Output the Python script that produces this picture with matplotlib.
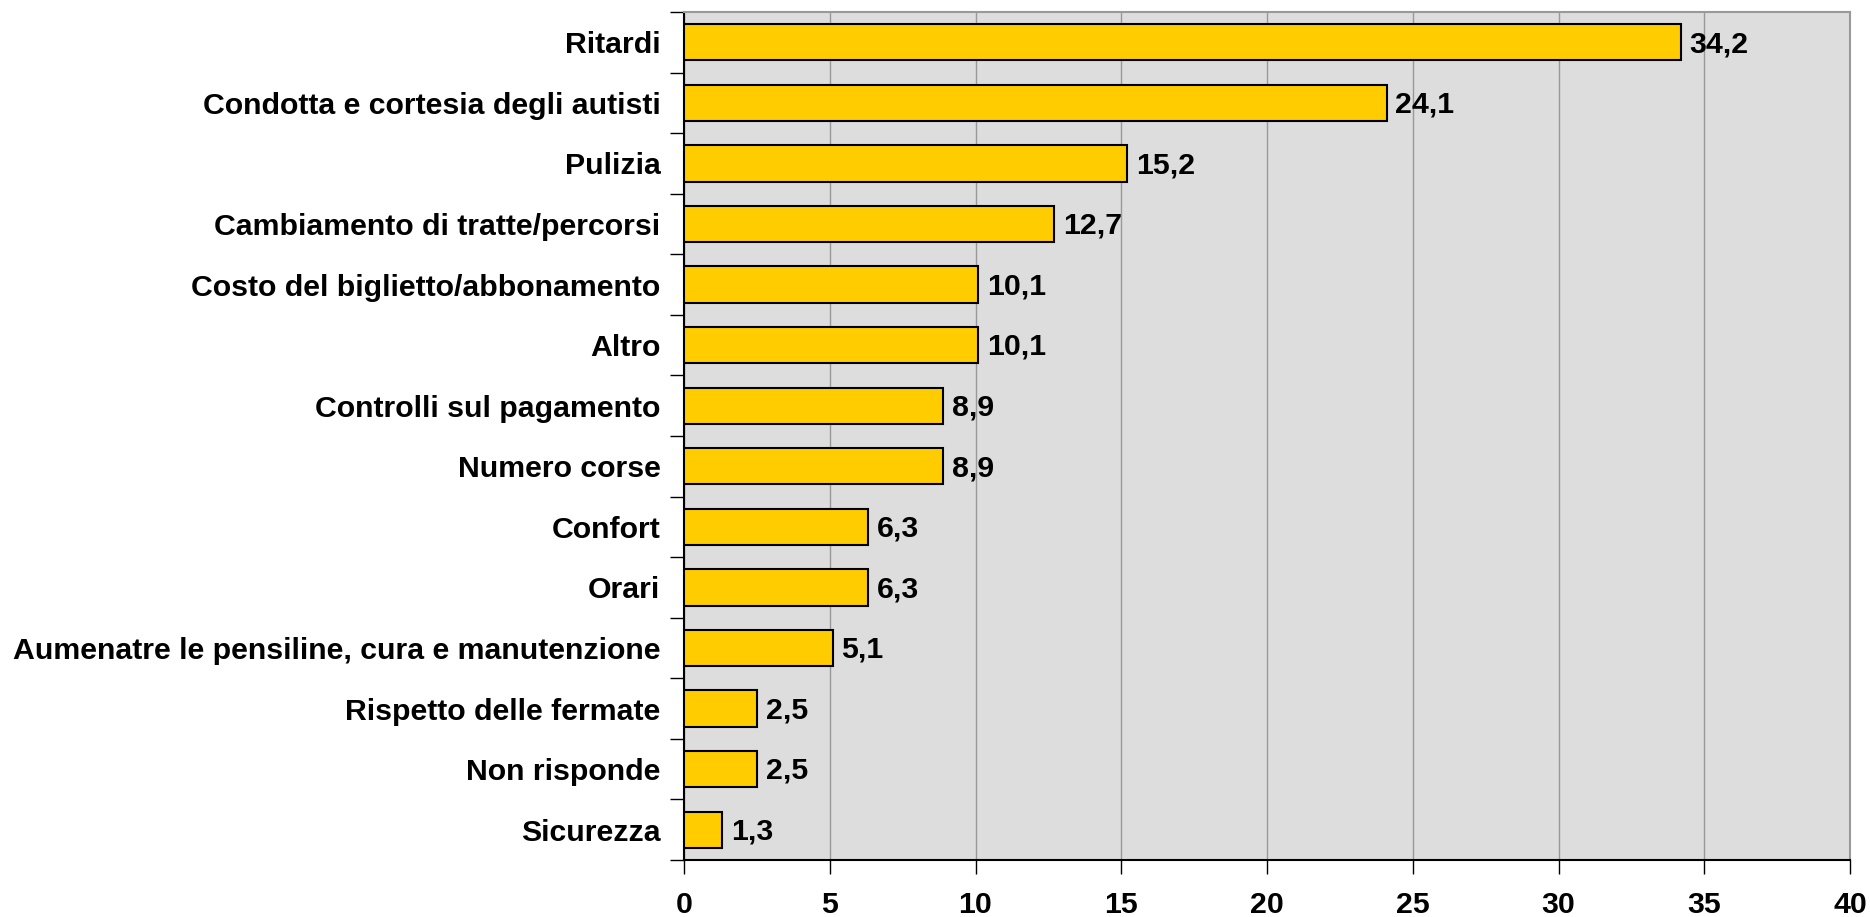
import matplotlib
matplotlib.use('Agg')
import matplotlib.pyplot as plt

categories = ['Ritardi', 'Condotta e cortesia degli autisti', 'Pulizia',
              'Cambiamento di tratte/percorsi', 'Costo del biglietto/abbonamento',
              'Altro', 'Controlli sul pagamento', 'Numero corse', 'Confort',
              'Orari', 'Aumenatre le pensiline, cura e manutenzione',
              'Rispetto delle fermate', 'Non risponde', 'Sicurezza']
values = [34.2, 24.1, 15.2, 12.7, 10.1, 10.1, 8.9, 8.9, 6.3, 6.3, 5.1, 2.5, 2.5, 1.3]
xticks = [0, 5, 10, 15, 20, 25, 30, 35, 40]

plt.rcParams['font.family'] = ['Liberation Sans', 'DejaVu Sans']
plt.rcParams['font.weight'] = 'bold'
fs = 21.8

fig = plt.figure(figsize=(18.7, 9.17), dpi=100)
ax = fig.add_axes([684/1870, 1 - 860/917, (1850-684)/1870, (860-12)/917])
ax.set_facecolor('#dddddd')

n = len(categories)
ypos = list(range(n))
ax.barh(ypos, values, height=0.6, color='#ffcc00', edgecolor='black', linewidth=1.5, zorder=3)
for y, v in zip(ypos, values):
    ax.text(v + 0.3, y + 0.03, f'{v:.1f}'.replace('.', ','), va='center', ha='left',
            fontsize=fs, fontweight='bold', zorder=4)

ax.set_xlim(0, 40)
ax.set_ylim(n - 0.5, -0.5)
ax.set_xticks(xticks)
ax.set_xticklabels([str(t) for t in xticks], fontsize=fs, fontweight='bold')
ax.set_yticks(ypos)
ax.set_yticklabels(categories, fontsize=fs, fontweight='bold')
ax.set_yticks([i - 0.5 for i in range(n + 1)], minor=True)
ax.tick_params(axis='y', which='major', length=0, pad=17)
ax.tick_params(axis='y', which='minor', length=10, width=1, direction='out')
ax.tick_params(axis='x', length=10, width=1, direction='out', pad=12)
ax.grid(axis='x', color='#999999', linewidth=1, zorder=1)

for side in ['left', 'bottom']:
    ax.spines[side].set_color('black')
    ax.spines[side].set_linewidth(1.5)
for side in ['top', 'right']:
    ax.spines[side].set_color('#999999')
    ax.spines[side].set_linewidth(1.5)

fig.savefig('out.png', dpi=100)
